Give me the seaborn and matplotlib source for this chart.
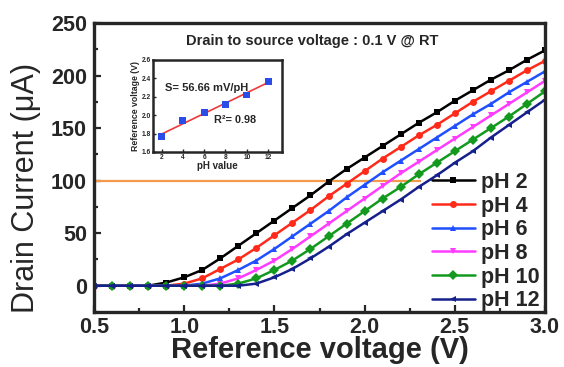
import numpy as np
import pandas as pd
import matplotlib
matplotlib.use('Agg')
import matplotlib.pyplot as plt
from matplotlib.lines import Line2D
from matplotlib.ticker import MultipleLocator, FormatStrFormatter
import seaborn as sns

# ---------------- data ----------------
voltage = [0.5, 0.6, 0.7, 0.8, 0.9, 1.0, 1.1, 1.2, 1.3, 1.4, 1.5, 1.6, 1.7,
           1.8, 1.9, 2.0, 2.1, 2.2, 2.3, 2.4, 2.5, 2.6, 2.7, 2.8, 2.9, 3.0]
ph_labels = ['pH 2', 'pH 4', 'pH 6', 'pH 8', 'pH 10', 'pH 12']
current_ph2 = [0, 0, 0, 0, 3, 8, 15, 26, 38, 50, 62, 74, 86, 99, 111, 122,
               133, 144, 155, 165, 176, 186, 196, 205, 215, 224]
current_ph4 = [0, 0, 0, 0, 0, 2, 7, 16, 25, 36, 48, 60, 72, 85, 97, 109,
               121, 132, 143, 153, 164, 175, 185, 195, 205, 214]
current_ph6 = [0, 0, 0, 0, 0, 0, 2, 7, 15, 24, 35, 47, 59, 71, 84, 96,
               108, 119, 130, 141, 152, 163, 173, 184, 194, 204]
current_ph8 = [0, 0, 0, 0, 0, 0, 0, 2, 7, 15, 24, 35, 47, 59, 71, 83,
               95, 107, 118, 129, 140, 151, 162, 173, 184, 195]
current_ph10 = [0, 0, 0, 0, 0, 0, 0, 0, 2, 7, 15, 24, 35, 47, 59, 71,
                83, 94, 106, 117, 128, 139, 150, 161, 173, 185]
current_ph12 = [0, 0, 0, 0, 0, 0, 0, 0, 0, 2, 8, 16, 26, 37, 49, 60,
                71, 82, 94, 105, 117, 128, 141, 153, 165, 177]

guide_current = 100
guide_v_start = 0.5
guide_v_end = 2.31

inset_ph = [2, 4, 6, 8, 10, 12]
inset_vref = [1.77, 1.94, 2.03, 2.12, 2.22, 2.37]

# ---------------- style ----------------
sns.set_style('ticks')
plt.rcParams['font.family'] = ['Liberation Sans', 'DejaVu Sans']
plt.rcParams['font.weight'] = 'bold'

colors = ['#000000', '#ff2a1a', '#1f4fff', '#ff3cff', '#139a1e', '#16208c']
markers = ['s', 'o', '^', 'v', 'D', '<']

fig = plt.figure(figsize=(5.64, 3.67), dpi=100)
ax = fig.add_axes([94/564, 1-312/367, 451/564, 289/367])

series = [current_ph2, current_ph4, current_ph6, current_ph8, current_ph10, current_ph12]
rows = []
for lab, vals in zip(ph_labels, series):
    for v, c in zip(voltage, vals):
        rows.append({'V': v, 'I': c, 'pH': lab})
df = pd.DataFrame(rows)

sns.lineplot(data=df, x='V', y='I', hue='pH', style='pH', hue_order=ph_labels,
             style_order=ph_labels, palette=colors, markers=markers, dashes=False,
             markersize=5, markeredgewidth=0, linewidth=1.8, ax=ax, legend=False)

ax.hlines(guide_current, guide_v_start, guide_v_end, color='#f39a4a', lw=1.6, zorder=1)

ax.set_xlim(0.5, 3.0)
ax.set_ylim(-25, 250)
ax.xaxis.set_major_locator(MultipleLocator(0.5))
ax.xaxis.set_minor_locator(MultipleLocator(0.25))
ax.yaxis.set_major_locator(MultipleLocator(50))
ax.yaxis.set_minor_locator(MultipleLocator(25))
ax.xaxis.set_major_formatter(FormatStrFormatter('%.1f'))
ax.tick_params(which='both', direction='in', width=1.6, labelsize=15.5, top=False, right=False)
ax.tick_params(which='major', length=5, pad=5)
ax.tick_params(axis='x', which='major', pad=3.5)
ax.tick_params(which='minor', length=3)
for s in ax.spines.values():
    s.set_linewidth(2.4)
    s.set_visible(True)

ax.set_xlabel('Reference voltage (V)', fontsize=21, fontweight='bold', labelpad=-1.5)
ax.set_ylabel('Drain Current (\u03bcA)', fontsize=22, fontweight='normal')
ax.yaxis.set_label_coords(-0.118, 0.43)

handles = [Line2D([0], [0], color=c, marker=m, markersize=5, markeredgewidth=0, lw=1.8)
           for c, m in zip(colors, markers)]
leg = ax.legend(handles, ph_labels, loc='upper left', bbox_to_anchor=(0.749, 0.485),
                frameon=False, fontsize=15.5, handlelength=2.0, handletextpad=0.3,
                labelspacing=0.125, borderpad=0, borderaxespad=0)

fig.text(312/564, 1-41/367, 'Drain to source voltage : 0.1 V @ RT', ha='center',
         va='center', fontsize=10.5, fontweight='bold')

# ---------------- inset ----------------
axin = fig.add_axes([153/564, 1-152/367, 129/564, 92/367])
slope, intercept = np.polyfit(inset_ph, inset_vref, 1)
fit_df = pd.DataFrame({'pH': inset_ph, 'fit': np.polyval([slope, intercept], inset_ph)})
sns.lineplot(data=fit_df, x='pH', y='fit', color='#ee3a3a', lw=1.2, ax=axin)
sns.scatterplot(x=inset_ph, y=inset_vref, marker='s', color='#2a4ce8', s=24,
                edgecolor='none', ax=axin, zorder=3)
axin.set_xlim(1.2, 13.3)
axin.set_ylim(1.6, 2.6)
axin.xaxis.set_major_locator(MultipleLocator(2))
axin.yaxis.set_major_locator(MultipleLocator(0.2))
axin.yaxis.set_major_formatter(FormatStrFormatter('%.1f'))
axin.tick_params(direction='in', length=2, width=1, labelsize=4.8, pad=1.5)
for s in axin.spines.values():
    s.set_linewidth(1.8)
axin.set_xlabel('pH value', fontsize=7, fontweight='bold', labelpad=0)
axin.set_ylabel('Reference voltage (V)', fontsize=6.3, fontweight='bold', labelpad=1)
axin.text(2.3, 2.30, 'S= 56.66 mV/pH', fontsize=8, fontweight='bold', va='center')
axin.text(6.9, 1.95, 'R\u00b2= 0.98', fontsize=7.8, fontweight='bold', va='center')

fig.savefig('out.png', dpi=100)
